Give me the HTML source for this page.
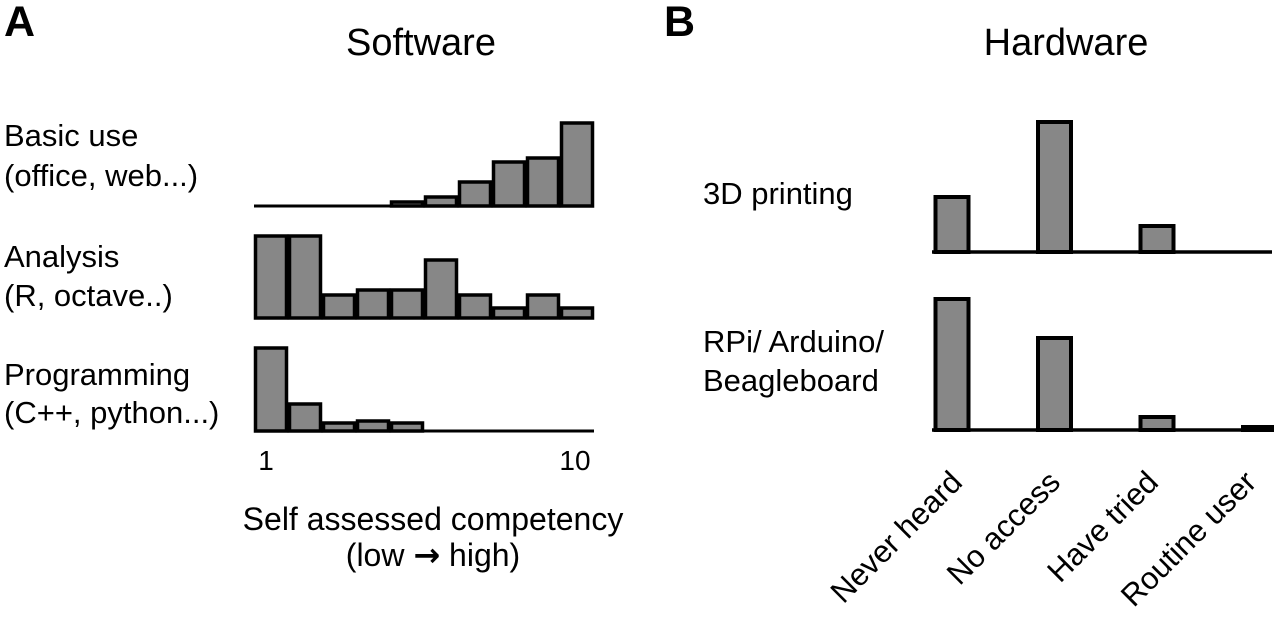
<!DOCTYPE html>
<html><head><meta charset="utf-8"><style>
html,body{margin:0;padding:0;background:#fff;}
svg{display:block;font-family:"Liberation Sans",Arial,sans-serif;}
</style></head><body>
<svg id="chart" width="1274" height="623" viewBox="0 0 1274 623">
<text x="4" y="36" font-size="43" font-weight="bold">A</text>
<text x="421" y="55" font-size="38" text-anchor="middle">Software</text>
<text x="664" y="36" font-size="43" font-weight="bold">B</text>
<text x="1066" y="55" font-size="38" text-anchor="middle">Hardware</text>
<g font-size="31">
<text x="4" y="146">Basic use</text>
<text x="4" y="186">(office, web...)</text>
<text x="4" y="267">Analysis</text>
<text x="4" y="306">(R, octave..)</text>
<text x="4" y="385">Programming</text>
<text x="4" y="423">(C++, python...)</text>
</g>
<text x="266" y="470" font-size="28" text-anchor="middle">1</text>
<text x="575" y="470" font-size="28" text-anchor="middle">10</text>
<text x="433" y="530" font-size="32" text-anchor="middle">Self assessed competency</text>
<text x="433" y="566" font-size="32" text-anchor="middle">(low <tspan font-family="DejaVu Sans, sans-serif" font-weight="bold">→</tspan> high)</text>
<g font-size="31">
<text x="703" y="204">3D printing</text>
<text x="703" y="352">RPi/ Arduino/</text>
<text x="703" y="391">Beagleboard</text>
</g>
<g id="marks"></g>
</svg>
<script>
// Software histograms (10 bins, competency 1..10)
const swBasic = [0,0,0,0,4,9,24,44,48,83];
const swAnalysis = [82,82,23,28,28,58,23,10,23,10];
const swProgramming = [83,27,8,10,8,0,0,0,0,0];
// Hardware categories
const hwCategories = ["Never heard","No access","Have tried","Routine user"];
const hw3D = [55,130,26,0];
const hwRPi = [131,92,13,3];

const NS = "http://www.w3.org/2000/svg";
const g = document.getElementById('marks');
function mk(tag, attrs){ const e=document.createElementNS(NS,tag); for(const k in attrs) e.setAttribute(k,attrs[k]); g.appendChild(e); return e; }

const swX0 = 254, swBinW = 34;
function swX(i){ return swX0 + i*swBinW; }
const swRows = [[swBasic,206,'basic'],[swAnalysis,318,'analysis'],[swProgramming,431,'programming']];
swRows.forEach(([vals,base,nm])=>{
  const ln = mk('line',{x1:swX(0),x2:swX(10),y1:base,y2:base,stroke:'#000','stroke-width':3});
  
  
  vals.forEach((v,i)=>{
    if(v<=0) return;
    const r = mk('rect',{x:swX(i)+1.5,y:base-v,width:swBinW-3,height:v,fill:'#878787',stroke:'#000','stroke-width':3.5});
    
    
  });
});

const hwX0 = 934, hwStep = 102.5, hwBarW = 33;
function hwX(i){ return hwX0 + i*hwStep; }
const hwRows = [[hw3D,252,'3d-printing'],[hwRPi,430,'rpi']];
hwRows.forEach(([vals,base,nm])=>{
  const ln = mk('line',{x1:932,x2:1272,y1:base,y2:base,stroke:'#000','stroke-width':3.5});
  
  
  vals.forEach((v,i)=>{
    if(v<=0) return;
    const r = mk('rect',{x:hwX(i)+1.5,y:base-v,width:hwBarW,height:v,fill:'#878787',stroke:'#000','stroke-width':4});
    
    
  });
});
hwCategories.forEach((c,i)=>{
  const x = 964 + i*98, y = 484;
  const t = mk('text',{x:x,y:y,'font-size':31,'text-anchor':'end',transform:'rotate(-45 '+x+' '+y+')'});
  t.textContent = c;
  
  
});
</script>
</body></html>
